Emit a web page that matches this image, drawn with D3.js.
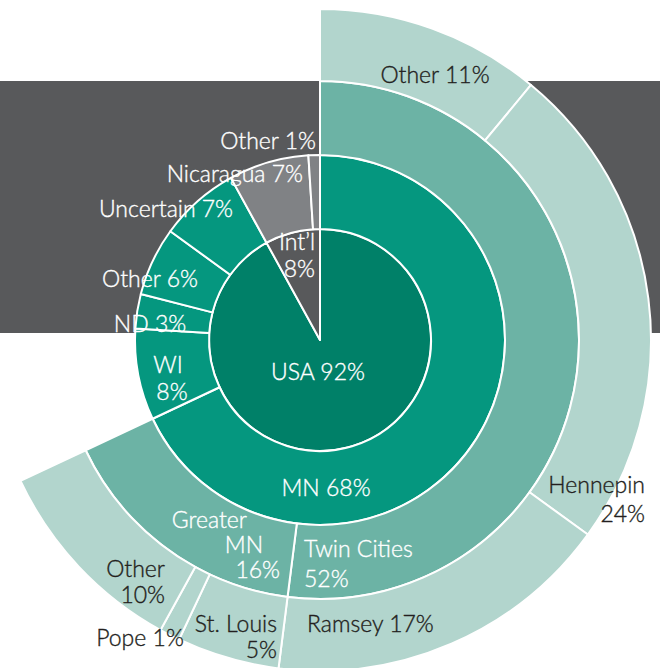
<!DOCTYPE html>
<html>
<head>
<meta charset="utf-8">
<script src="https://cdn.jsdelivr.net/npm/d3@7"></script>
<style>
  html, body { margin: 0; padding: 0; background: #ffffff; }
  svg { display: block; }
  text { font-family: Lato, "Open Sans", sans-serif; font-weight: 300; font-size: 23px; stroke-width: 0.35px; }
</style>
</head>
<body>
<svg id="chart" width="660" height="668"></svg>
<script>
// ---- data: shares of the total, in percent, listed clockwise from 12 o'clock ----
const regions = ["USA", "Int’l"];
const usaStates = ["MN", "WI", "ND", "Other", "Uncertain"];
const usaStateShares = [68, 8, 3, 6, 7];          // MN is the sum of its areas
const intlCountries = ["Nicaragua", "Other"];
const intlShares = [7, 1];
const mnAreas = ["Twin Cities", "Greater MN"];
const twinCitiesCounties = ["Other", "Hennepin", "Ramsey"];
const twinCitiesShares = [11, 24, 17];
const greaterMnCounties = ["St. Louis", "Pope", "Other"];
const greaterMnShares = [5, 1, 10];

// ---- build the hierarchy ----
const leaves = (names, shares) => names.map((n, i) => ({ name: n, value: shares[i] }));
const mnChildren = [
  { name: mnAreas[0], children: leaves(twinCitiesCounties, twinCitiesShares) },
  { name: mnAreas[1], children: leaves(greaterMnCounties, greaterMnShares) }
];
const tree = {
  name: "All",
  children: [
    { name: regions[0], children: usaStates.map((s, i) =>
        s === "MN" ? { name: s, children: mnChildren } : { name: s, value: usaStateShares[i] }) },
    { name: regions[1], children: leaves(intlCountries, intlShares) }
  ]
};

const width = 660, height = 668;
const cx = 320, cy = 340;

const root = d3.hierarchy(tree).sum(d => d.children ? 0 : d.value);
d3.partition().size([2 * Math.PI, root.height + 1])(root);

// inner disc is wider than the outer rings
const radius = d3.scaleLinear().domain([1, 2, 3, 4, 5]).range([0, 111, 185, 259, 331]);

const arc = d3.arc()
  .startAngle(d => d.x0)
  .endAngle(d => d.x1)
  .innerRadius(d => radius(d.y0))
  .outerRadius(d => radius(d.y1));

const greenByDepth = [null, "#008068", "#05977f", "#6cb3a5", "#b2d5cd"];
const greyByDepth = [null, "#58595b", "#808285"];
const idOf = d => d.ancestors().reverse().slice(1).map(a => a.data.name).join("/");
const branchOf = d => d.ancestors().find(a => a.depth === 1).data.name;
const fillOf = d => branchOf(d) === regions[1] ? greyByDepth[d.depth] : greenByDepth[d.depth];

const svg = d3.select("#chart");

// dark band behind the chart
svg.append("rect")
  .attr("x", 0).attr("y", 81)
  .attr("width", width).attr("height", 252)
  .attr("fill", "#58595b");

const g = svg.append("g").attr("transform", `translate(${cx},${cy})`);

g.selectAll("path")
  .data(root.descendants().filter(d => d.depth > 0))
  .join("path")
  .attr("d", arc)
  .attr("fill", fillOf)
  .attr("stroke", "#ffffff")
  .attr("stroke-width", 2)
  .attr("stroke-linejoin", "round");

// ---- labels: anchor and line positions relative to the centre ----
const labelLayout = {
  "USA":                          { anchor: "middle", lines: [[-2, 40]] },
  "Int’l":                        { anchor: "end",    lines: [[-5, -90], [-5, -63]] },
  "USA/MN":                       { anchor: "middle", lines: [[6, 156]] },
  "USA/WI":                       { anchor: "middle", lines: [[-152, 33], [-148, 60]] },
  "USA/ND":                       { anchor: "middle", lines: [[-170, -8]] },
  "USA/Other":                    { anchor: "middle", lines: [[-170, -53]] },
  "USA/Uncertain":                { anchor: "middle", lines: [[-154, -123]] },
  "Int’l/Nicaragua":              { anchor: "end",    lines: [[-17, -158]] },
  "Int’l/Other":                  { anchor: "end",    lines: [[-4, -191]] },
  "USA/MN/Twin Cities":           { anchor: "start",  lines: [[-16, 217], [-16, 247]] },
  "USA/MN/Greater MN":            { anchor: "end",    lines: [[-73, 188], [-57, 213], [-40, 238]] },
  "USA/MN/Twin Cities/Other":     { anchor: "middle", lines: [[115, -257]] },
  "USA/MN/Twin Cities/Hennepin":  { anchor: "end",    lines: [[325, 153], [325, 182]] },
  "USA/MN/Twin Cities/Ramsey":    { anchor: "start",  lines: [[-13, 292]] },
  "USA/MN/Greater MN/St. Louis":  { anchor: "end",    lines: [[-43, 292], [-43, 318]] },
  "USA/MN/Greater MN/Pope":       { anchor: "middle", lines: [[-180, 306]] },
  "USA/MN/Greater MN/Other":      { anchor: "end",    lines: [[-155, 237], [-155, 263]] }
};

const labelNodes = root.descendants().filter(d => labelLayout[idOf(d)]);
const inkOf = d => d.depth >= 4 ? "#231f20" : "#ffffff";

g.selectAll("text.label")
  .data(labelNodes)
  .join("text")
  .attr("class", "label")
  .attr("text-anchor", d => labelLayout[idOf(d)].anchor)
  .attr("fill", inkOf)
  .attr("stroke", inkOf)
  .each(function (d) {
    const spec = labelLayout[idOf(d)];
    const pct = `${d.value}%`;
    let parts;
    if (spec.lines.length === 1) parts = [`${d.data.name} ${pct}`];
    else if (spec.lines.length === 2) parts = [d.data.name, pct];
    else parts = [...d.data.name.split(" "), pct];
    d3.select(this).selectAll("tspan")
      .data(parts)
      .join("tspan")
      .attr("x", (p, i) => spec.lines[i][0])
      .attr("y", (p, i) => spec.lines[i][1])
      .text(p => p);
  });
</script>
</body>
</html>
